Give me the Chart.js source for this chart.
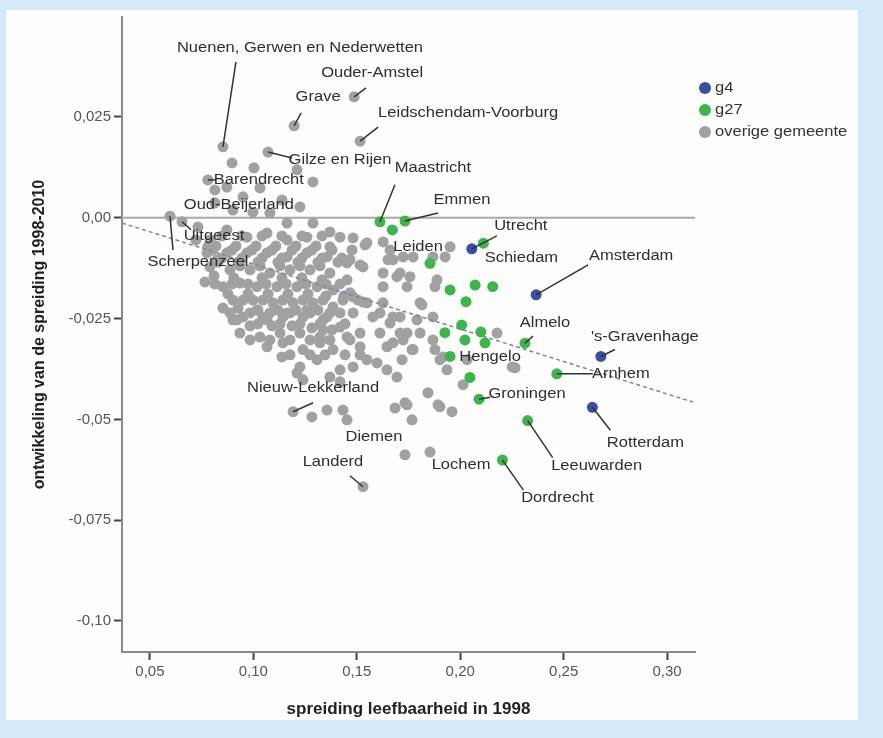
<!DOCTYPE html>
<html><head><meta charset="utf-8">
<script src="https://cdn.jsdelivr.net/npm/chart.js@4.4.1/dist/chart.umd.min.js"></script>
<style>html,body{margin:0;padding:0;background:#d5eaf8;}canvas{display:block;}</style>
</head><body><canvas id="c" width="883" height="738"></canvas>
<script>
// ---------- data ----------
const xTicks = [0.05, 0.10, 0.15, 0.20, 0.25, 0.30];
const xTickLabels = ['0,05', '0,10', '0,15', '0,20', '0,25', '0,30'];
const yTicks = [0.025, 0, -0.025, -0.05, -0.075, -0.10];
const yTickLabels = ['0,025', '0,00', '-0,025', '-0,05', '-0,075', '-0,10'];
const seriesNames = ['g4', 'g27', 'overige gemeente'];

// g4 (big four)
const g4Points = [
  [0.2056, -0.0077], [0.2367, -0.0191], [0.2680, -0.0344], [0.2639, -0.0470]
];
// g27
const g27Points = [
  [0.1612, -0.0010], [0.1733, -0.0008], [0.2112, -0.0063], [0.2313, -0.0311],
  [0.1951, -0.0344], [0.2467, -0.0387], [0.2091, -0.0450], [0.2326, -0.0503],
  [0.2204, -0.0601], [0.1672, -0.0030], [0.1854, -0.0113], [0.1951, -0.0179],
  [0.2072, -0.0167], [0.2157, -0.0171], [0.2028, -0.0208], [0.2007, -0.0266],
  [0.1926, -0.0285], [0.2023, -0.0303], [0.2100, -0.0283], [0.2120, -0.0310],
  [0.2047, -0.0396]
];
// overige gemeenten
const otherPoints = [
  [0.0853, 0.0176], [0.1487, 0.0300], [0.1197, 0.0228], [0.1516, 0.0190],
  [0.1071, 0.0163], [0.0780, 0.0094], [0.0814, 0.0069], [0.0655, -0.0010],
  [0.0597, 0.0004], [0.1192, -0.0481], [0.1530, -0.0667], [0.1733, -0.0588],
  [0.1854, -0.0581], [0.1951, -0.0072],
  [0.0897, 0.0136], [0.1003, 0.0124], [0.1211, 0.0119], [0.1288, 0.0089],
  [0.0872, 0.0076], [0.1032, 0.0074], [0.0950, 0.0052], [0.1138, 0.0044],
  [0.1225, 0.0027], [0.0814, 0.0037], [0.0901, 0.0019], [0.0998, 0.0014],
  [0.1080, 0.0012], [0.1163, -0.0013], [0.1288, -0.0013], [0.1370, -0.0035],
  [0.1419, -0.0048], [0.1482, -0.0050], [0.1549, -0.0062], [0.1627, -0.0060],
  [0.1661, -0.0080], [0.1675, -0.0104], [0.1627, -0.0137], [0.1627, -0.0171],
  [0.1709, -0.0137], [0.1743, -0.0171], [0.1806, -0.0211], [0.1888, -0.0154],
  [0.1868, -0.0097], [0.1370, -0.0072], [0.1259, -0.0048], [0.1163, -0.0055],
  [0.1066, -0.0038], [0.0969, -0.0048], [0.0872, -0.0030], [0.0790, -0.0055],
  [0.0776, -0.0087], [0.0872, -0.0087], [0.0969, -0.0087], [0.1066, -0.0087],
  [0.1163, -0.0097], [0.1259, -0.0087], [0.1356, -0.0097], [0.1453, -0.0112],
  [0.1530, -0.0122], [0.1453, -0.0154], [0.1370, -0.0137], [0.1274, -0.0129],
  [0.1177, -0.0129], [0.1080, -0.0137], [0.0984, -0.0129], [0.0887, -0.0129],
  [0.0790, -0.0122], [0.0766, -0.0159], [0.0853, -0.0171], [0.0935, -0.0162],
  [0.1017, -0.0171], [0.1114, -0.0171], [0.1211, -0.0171], [0.1308, -0.0171],
  [0.1385, -0.0179], [0.1482, -0.0196], [0.1549, -0.0211], [0.1627, -0.0211],
  [0.1675, -0.0246], [0.1578, -0.0246], [0.1482, -0.0236], [0.1385, -0.0221],
  [0.1288, -0.0211], [0.1192, -0.0211], [0.1095, -0.0211], [0.0998, -0.0204],
  [0.0901, -0.0204], [0.0853, -0.0224], [0.0950, -0.0246], [0.1046, -0.0246],
  [0.1143, -0.0246], [0.1240, -0.0246], [0.1337, -0.0253], [0.1419, -0.0271],
  [0.1516, -0.0286], [0.1612, -0.0286], [0.1709, -0.0286], [0.1791, -0.0253],
  [0.1806, -0.0286], [0.1868, -0.0246], [0.0935, -0.0286], [0.1032, -0.0296],
  [0.1129, -0.0286], [0.1225, -0.0286], [0.1322, -0.0296],
  [0.0921, -0.0253], [0.1017, -0.0229], [0.1066, -0.0253], [0.1163, -0.0236],
  [0.1259, -0.0229], [0.1356, -0.0246], [0.1419, -0.0236], [0.1066, -0.0320],
  [0.1143, -0.0310], [0.1138, -0.0345], [0.1240, -0.0327], [0.1322, -0.0310],
  [0.1385, -0.0327], [0.1337, -0.0278], [0.1453, -0.0296], [0.1516, -0.0320],
  [0.1549, -0.0352], [0.1598, -0.0360], [0.1646, -0.0377], [0.1694, -0.0395],
  [0.1646, -0.0320], [0.1724, -0.0303], [0.1772, -0.0327], [0.1719, -0.0352],
  [0.1482, -0.0370], [0.1419, -0.0377], [0.1308, -0.0352], [0.1225, -0.0370],
  [0.1211, -0.0385], [0.1240, -0.0402], [0.1370, -0.0395], [0.1419, -0.0407],
  [0.1844, -0.0434], [0.1893, -0.0464], [0.1685, -0.0472], [0.1733, -0.0459],
  [0.1767, -0.0501], [0.1283, -0.0494], [0.1356, -0.0477], [0.1433, -0.0477],
  [0.1453, -0.0501], [0.1868, -0.0303], [0.1917, -0.0345],
  [0.1540, -0.0067], [0.1467, -0.0104], [0.1516, -0.0117], [0.1651, -0.0104],
  [0.1724, -0.0097], [0.1772, -0.0097], [0.1927, -0.0097], [0.1694, -0.0146],
  [0.1757, -0.0146], [0.1878, -0.0171], [0.1815, -0.0216], [0.1530, -0.0209],
  [0.1467, -0.0186], [0.1612, -0.0236], [0.1661, -0.0261], [0.1709, -0.0246],
  [0.1743, -0.0286], [0.1675, -0.0310], [0.1767, -0.0327], [0.1878, -0.0327],
  [0.1902, -0.0352], [0.2178, -0.0286], [0.2251, -0.0370], [0.2033, -0.0352],
  [0.1936, -0.0377], [0.2014, -0.0414], [0.1743, -0.0464], [0.1902, -0.0469],
  [0.1960, -0.0481], [0.2265, -0.0372], [0.0901, -0.0253], [0.0780, -0.0072],
  [0.0824, -0.0104],
  [0.0819, -0.0070], [0.0916, -0.0070], [0.1013, -0.0070], [0.1109, -0.0070],
  [0.1206, -0.0070], [0.1303, -0.0070], [0.0829, -0.0110], [0.0926, -0.0110],
  [0.1022, -0.0110], [0.1119, -0.0110], [0.1216, -0.0110], [0.1312, -0.0110],
  [0.1409, -0.0110], [0.0810, -0.0144], [0.0906, -0.0149], [0.1042, -0.0149],
  [0.1138, -0.0149], [0.1235, -0.0149], [0.1332, -0.0154], [0.0877, -0.0189],
  [0.0974, -0.0189], [0.1071, -0.0189], [0.1167, -0.0189], [0.1264, -0.0189],
  [0.1351, -0.0194], [0.1438, -0.0194], [0.0926, -0.0224], [0.1022, -0.0229],
  [0.1119, -0.0229], [0.1206, -0.0229], [0.1312, -0.0229], [0.0984, -0.0268],
  [0.1090, -0.0268], [0.1187, -0.0268], [0.1283, -0.0273], [0.1380, -0.0278],
  [0.0732, -0.0023], [0.0722, -0.0055],
  [0.0848, -0.0045], [0.0945, -0.0045], [0.1042, -0.0045], [0.1138, -0.0045],
  [0.1235, -0.0045], [0.1332, -0.0045],
  [0.0800, -0.0080], [0.0897, -0.0080], [0.0993, -0.0080], [0.1090, -0.0080],
  [0.1187, -0.0080], [0.1283, -0.0080], [0.1380, -0.0080], [0.1477, -0.0080],
  [0.0848, -0.0100], [0.0945, -0.0100], [0.1042, -0.0100], [0.1138, -0.0100],
  [0.1235, -0.0100], [0.1332, -0.0100], [0.1428, -0.0100],
  [0.0935, -0.0119], [0.1032, -0.0119], [0.1129, -0.0119], [0.1225, -0.0119],
  [0.1322, -0.0119],
  [0.0814, -0.0164], [0.0897, -0.0164], [0.0974, -0.0164], [0.1061, -0.0164],
  [0.1158, -0.0164], [0.1254, -0.0164], [0.1351, -0.0164], [0.1419, -0.0164],
  [0.0950, -0.0204], [0.1046, -0.0204], [0.1143, -0.0204], [0.1240, -0.0204],
  [0.1337, -0.0204], [0.1433, -0.0204], [0.1506, -0.0204],
  [0.0887, -0.0236], [0.0984, -0.0236], [0.1080, -0.0236], [0.1177, -0.0236],
  [0.1274, -0.0236], [0.1370, -0.0236],
  [0.1022, -0.0263], [0.1129, -0.0263], [0.1225, -0.0263], [0.1322, -0.0263],
  [0.1443, -0.0263],
  [0.0984, -0.0303], [0.1080, -0.0303], [0.1177, -0.0303], [0.1274, -0.0303],
  [0.1370, -0.0303], [0.1467, -0.0303],
  [0.1177, -0.0340], [0.1274, -0.0340], [0.1346, -0.0340], [0.1443, -0.0340],
  [0.1516, -0.0340]
];
// fitted regression line (end points)
const fitX = [0.0365, 0.3125];
const fitY = [-0.0013, -0.0457];

// point labels: series, index, name
const labelNames = [
  ['other', 0, 'Nuenen, Gerwen en Nederwetten'], ['other', 1, 'Ouder-Amstel'],
  ['other', 2, 'Grave'], ['other', 3, 'Leidschendam-Voorburg'],
  ['other', 4, 'Gilze en Rijen'], ['other', 5, 'Barendrecht'],
  ['other', 6, 'Oud-Beijerland'], ['other', 7, 'Uitgeest'],
  ['other', 8, 'Scherpenzeel'], ['other', 9, 'Nieuw-Lekkerland'],
  ['other', 10, 'Landerd'], ['other', 11, 'Diemen'], ['other', 12, 'Lochem'],
  ['other', 13, 'Leiden'],
  ['g4', 0, 'Utrecht'], ['g4', 1, 'Amsterdam'], ['g4', 2, "'s-Gravenhage"], ['g4', 3, 'Rotterdam'],
  ['g27', 0, 'Maastricht'], ['g27', 1, 'Emmen'], ['g27', 2, 'Schiedam'], ['g27', 3, 'Almelo'],
  ['g27', 4, 'Hengelo'], ['g27', 5, 'Arnhem'], ['g27', 6, 'Groningen'],
  ['g27', 7, 'Leeuwarden'], ['g27', 8, 'Dordrecht']
];

// ---------- layout / style (pixel offsets of label text and leader start) ----------
const labelLayout = {
  'Nuenen, Gerwen en Nederwetten': [77, -99, 13, -85], 'Ouder-Amstel': [18, -24, 12, -9],
  'Grave': [24, -29, 7, -13], 'Leidschendam-Voorburg': [108, -28, 18, -14],
  'Gilze en Rijen': [72, 8, 24, 6], 'Barendrecht': [51, 0, 8, 0],
  'Oud-Beijerland': [24, 15, null, null], 'Uitgeest': [32, 14, 9, 8],
  'Scherpenzeel': [28, 46, 3, 34], 'Nieuw-Lekkerland': [20, -24, 20, -9],
  'Landerd': [-30, -25, -13, -11], 'Diemen': [-31, -18, null, null],
  'Lochem': [31, 13, null, null], 'Leiden': [-32, 0, null, null],
  'Utrecht': [49, -23, 25, -13], 'Amsterdam': [95, -39, 52, -30],
  "'s-Gravenhage": [44, -19, 14, -7], 'Rotterdam': [53, 36, 18, 23],
  'Maastricht': [53, -54, 15, -37], 'Emmen': [57, -21, 33, -8],
  'Schiedam': [38, 15, null, null], 'Almelo': [20, -20, 8, -7],
  'Hengelo': [40, 1, null, null], 'Arnhem': [64, 0, 36, 0],
  'Groningen': [48, -5, 11, -2], 'Leeuwarden': [69, 46, 25, 37],
  'Dordrecht': [55, 38, 21, 30]
};
const COLORS = { g4: '#3a4ea6', g27: '#3cb64b', other: '#a1a1a1' };
const FONT = '"Liberation Sans", Arial, sans-serif';
const TEXT_STRETCH = 1.18;

const toXY = arr => arr.map(p => ({ x: p[0], y: p[1] }));
const seriesData = { g4: toXY(g4Points), g27: toXY(g27Points), other: toXY(otherPoints) };

function stretchedText(ctx, text, cx, cy, align) {
  ctx.save();
  ctx.translate(cx, cy);
  ctx.scale(TEXT_STRETCH, 1);
  ctx.textAlign = align || 'center';
  ctx.textBaseline = 'middle';
  ctx.fillText(text, 0, 0);
  ctx.restore();
}

const decorPlugin = {
  id: 'decor',
  beforeDraw(chart) {
    const c = chart.ctx;
    c.save();
    c.fillStyle = '#d5eaf8';
    c.fillRect(0, 0, chart.width, chart.height);
    c.fillStyle = '#fdfdfb';
    c.fillRect(6, 10, 852, 710);
    c.restore();
  },
  beforeDatasetsDraw(chart) {
    const { ctx, chartArea: a, scales: { y } } = chart;
    const py = y.getPixelForValue(0);
    ctx.save();
    ctx.strokeStyle = '#a8a8a8';
    ctx.lineWidth = 2;
    ctx.beginPath();
    ctx.moveTo(a.left, py);
    ctx.lineTo(a.right, py);
    ctx.stroke();
    ctx.restore();
  },
  afterDatasetsDraw(chart) {
    const { ctx, scales: { x, y } } = chart;
    ctx.save();
    ctx.font = '14px ' + FONT;
    labelNames.forEach(([s, i, name]) => {
      const p = seriesData[s][i];
      const px = x.getPixelForValue(p.x), py = y.getPixelForValue(p.y);
      const [tx, ty, lx, ly] = labelLayout[name];
      if (lx !== null) {
        ctx.strokeStyle = '#333';
        ctx.lineWidth = 1.5;
        ctx.beginPath();
        ctx.moveTo(px, py);
        ctx.lineTo(px + lx, py + ly);
        ctx.stroke();
      }
      ctx.fillStyle = '#2e2e2e';
      stretchedText(ctx, name, px + tx, py + ty);
    });
    // legend
    const legendKeys = ['g4', 'g27', 'other'];
    legendKeys.forEach((k, i) => {
      const cy = 88 + i * 22;
      ctx.fillStyle = COLORS[k];
      ctx.beginPath();
      ctx.arc(705, cy, 6, 0, Math.PI * 2);
      ctx.fill();
      ctx.fillStyle = '#333';
      stretchedText(ctx, seriesNames[i], 715, cy, 'left');
    });
    ctx.restore();
  }
};

new Chart(document.getElementById('c'), {
  type: 'scatter',
  data: {
    datasets: [
      { type: 'line', label: 'fit', data: fitX.map((v, i) => ({ x: v, y: fitY[i] })),
        borderColor: '#7b86a0', borderWidth: 1.5, borderDash: [4, 3], pointRadius: 0, fill: false, order: 0 },
      { label: seriesNames[0], data: seriesData.g4, backgroundColor: COLORS.g4, borderWidth: 0, pointRadius: 5.5, order: 1 },
      { label: seriesNames[1], data: seriesData.g27, backgroundColor: COLORS.g27, borderWidth: 0, pointRadius: 5.5, order: 2 },
      { label: seriesNames[2], data: seriesData.other, backgroundColor: COLORS.other, borderWidth: 0, pointRadius: 5.5, order: 3 }
    ]
  },
  options: {
    responsive: false,
    animation: false,
    events: [],
    layout: { padding: { left: 0, top: 17, right: 188, bottom: 16 } },
    plugins: { legend: { display: false }, tooltip: { enabled: false } },
    scales: {
      x: {
        type: 'linear', position: 'bottom', min: 0.0365, max: 0.3135,
        afterBuildTicks: s => { s.ticks = xTicks.map(v => ({ value: v })); },
        afterFit: s => { s.height = 70; },
        ticks: { callback: (v, i) => xTickLabels[i], color: '#555', font: { family: FONT, size: 15 }, padding: 3, maxRotation: 0, autoSkip: false },
        grid: { drawOnChartArea: false, drawTicks: true, tickLength: 8, tickColor: '#444', tickWidth: 2 },
        border: { display: true, color: '#8a8a8a', width: 2 },
        title: { display: true, text: 'spreiding leefbaarheid in 1998', color: '#222',
          font: { family: FONT, size: 17, weight: 'bold', lineHeight: 1.2 }, padding: { top: 0, bottom: 2.8 } }
      },
      y: {
        type: 'linear', position: 'left', min: -0.1077, max: 0.0498,
        afterBuildTicks: s => { s.ticks = yTicks.map(v => ({ value: v })); },
        afterFit: s => { s.width = 122; },
        ticks: { callback: (v, i) => yTickLabels[i], color: '#555', font: { family: FONT, size: 15 }, padding: 3, autoSkip: false },
        grid: { drawOnChartArea: false, drawTicks: true, tickLength: 8, tickColor: '#444', tickWidth: 2 },
        border: { display: true, color: '#8a8a8a', width: 2 },
        title: { display: true, text: 'ontwikkeling van de spreiding 1998-2010', color: '#222',
          font: { family: FONT, size: 16, weight: 'bold', lineHeight: 1.2 }, padding: { top: 30, bottom: 0 } }
      }
    }
  },
  plugins: [decorPlugin]
});
</script></body></html>
